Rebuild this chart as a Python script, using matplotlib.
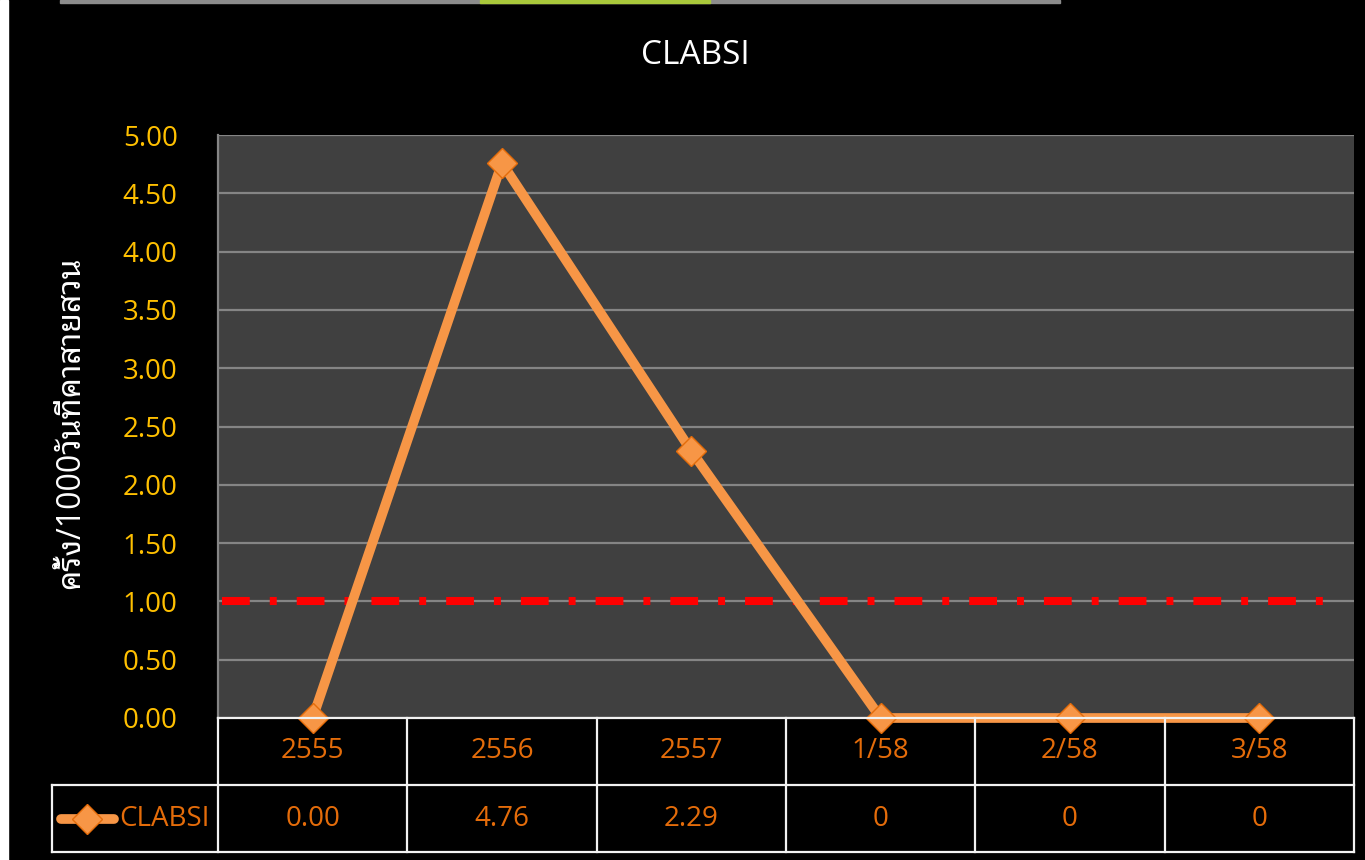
import matplotlib
matplotlib.use("Agg")
import matplotlib.pyplot as plt
import matplotlib.patches as patches
import matplotlib.transforms as mtransforms
import numpy as np

# data
categories = ["2555", "2556", "2557", "1/58", "2/58", "3/58"]
clabsi = [0.00, 4.76, 2.29, 0, 0, 0]
table_labels = ["0.00", "4.76", "2.29", "0", "0", "0"]
threshold = 1.0
series_name = "CLABSI"
y_ticks = [0, 0.5, 1, 1.5, 2, 2.5, 3, 3.5, 4, 4.5, 5]

FONT = ["Open Sans", "Noto Sans Thai Looped", "DejaVu Sans"]
plt.rcParams["font.family"] = FONT

W, H = 1365, 860
fig = plt.figure(figsize=(W / 100, H / 100), dpi=100, facecolor="black")

# screenshot edges
fig.patches.append(patches.Rectangle((0, 0), 8 / W, 1, transform=fig.transFigure,
                                     color="white", zorder=0))
fig.patches.append(patches.Rectangle((60 / W, 1 - 3 / H), 1000 / W, 3 / H,
                                     transform=fig.transFigure, color="#8C8C8C", zorder=0))
fig.patches.append(patches.Rectangle((480 / W, 1 - 3 / H), 230 / W, 3 / H,
                                     transform=fig.transFigure, color="#A9C83A", zorder=0))

left, right, top, bottom = 218, 1354, 135, 718
ax = fig.add_axes([left / W, 1 - bottom / H, (right - left) / W, (bottom - top) / H])
ax.set_facecolor("#404040")

x = np.arange(len(categories))
ax.set_xlim(-0.5, len(categories) - 0.5)
ax.set_ylim(0, 5)

# grid
ax.set_yticks(y_ticks)
ax.set_yticklabels(["%.2f" % t for t in y_ticks], color="#FFC000", fontsize=20)
ax.tick_params(axis="y", length=0, pad=29)
ax.set_xticks([])
ax.yaxis.grid(True, color="#858585", linewidth=1.6)
ax.set_axisbelow(True)
for s in ["top", "right", "bottom"]:
    ax.spines[s].set_visible(False)
ax.spines["left"].set_color("#858585")
ax.spines["left"].set_linewidth(1.6)

# threshold line
lw_t = 5.8
ax.plot([-0.48, len(categories) - 0.57], [threshold, threshold], color="#FF0000",
        linewidth=lw_t, linestyle=(0, (20 / lw_t, 14.4 / lw_t, 5 / lw_t, 14.4 / lw_t)),
        zorder=3)

# series
ax.plot(x, clabsi, color="#F79646", linewidth=7, marker="D", markersize=15,
        markerfacecolor="#F79646", markeredgecolor="#E46C0A", markeredgewidth=1,
        zorder=5, clip_on=False)

# data table under the axis
row_h = 67 / (bottom - top)
col_w = (right - left) / len(categories)
leg_x = -0.5 - (left - 52) / col_w
tr = mtransforms.blended_transform_factory(ax.transData, ax.transAxes)
line_kw = dict(color="#F2F2F2", linewidth=1.6, transform=tr, clip_on=False, zorder=6)

ax.plot([-0.5, len(categories) - 0.5], [0, 0], **line_kw)
ax.plot([leg_x, len(categories) - 0.5], [-row_h, -row_h], **line_kw)
ax.plot([leg_x, len(categories) - 0.5], [-2 * row_h, -2 * row_h], **line_kw)
for i in range(len(categories) + 1):
    ax.plot([i - 0.5, i - 0.5], [0, -2 * row_h], **line_kw)
ax.plot([leg_x, leg_x], [-row_h, -2 * row_h], **line_kw)

orange_txt = "#E46C0A"
for i, (c, v) in enumerate(zip(categories, table_labels)):
    ax.text(i, -0.5 * row_h, c, transform=tr, ha="center", va="center",
            color=orange_txt, fontsize=20)
    ax.text(i, -1.5 * row_h, v, transform=tr, ha="center", va="center",
            color=orange_txt, fontsize=20)

# legend key in the table
px = lambda p: (p - left) / col_w - 0.5
ax.plot([px(61), px(114)], [-1.5 * row_h] * 2, color="#F79646", linewidth=7,
        solid_capstyle="round", transform=tr, clip_on=False, zorder=7)
ax.plot([px(87)], [-1.5 * row_h], marker="D", markersize=15, color="#F79646",
        markeredgecolor="#E46C0A", markeredgewidth=1, transform=tr, clip_on=False, zorder=8)
ax.text(px(119), -1.5 * row_h, series_name, transform=tr, ha="left", va="center",
        color=orange_txt, fontsize=20)

# title and axis label
fig.text(695 / W, 1 - 55 / H, "CLABSI", color="white", fontsize=24,
         ha="center", va="center")
fig.text(71 / W, 1 - 423 / H, "ครั้ง/1000วันที่คาสายสวน", color="white",
         fontsize=23, rotation=90, ha="center", va="center")

fig.savefig("out.png", dpi=100, facecolor=fig.get_facecolor())
